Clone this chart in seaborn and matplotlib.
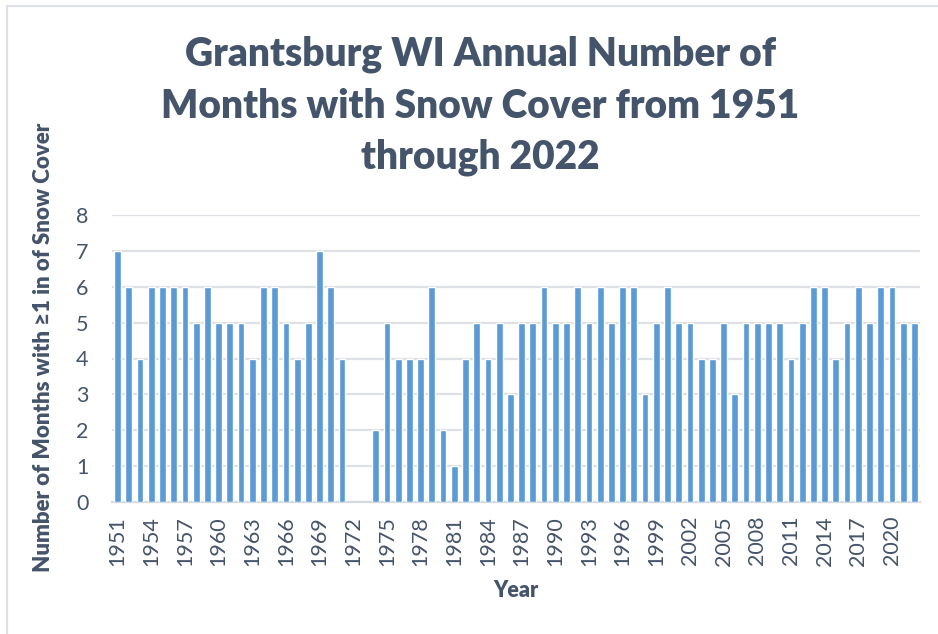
import matplotlib
matplotlib.use("Agg")
import matplotlib.pyplot as plt
import seaborn as sns
import pandas as pd
import numpy as np
from matplotlib.patches import Rectangle

years = list(range(1951, 2023))
months = [7, 6, 4, 6, 6, 6, 6, 5, 6, 5,
          5, 5, 4, 6, 6, 5, 4, 5, 7, 6,
          4, None, None, 2, 5, 4, 4, 4, 6, 2,
          1, 4, 5, 4, 5, 3, 5, 5, 6, 5,
          5, 6, 5, 6, 5, 6, 6, 3, 5, 6,
          5, 5, 4, 4, 5, 3, 5, 5, 5, 5,
          4, 5, 6, 6, 4, 5, 6, 5, 6, 6,
          5, 5]

title = "Grantsburg WI Annual Number of\nMonths with Snow Cover from 1951\nthrough 2022"
text_color = "#44546A"
bar_color = "#5B9BD5"
grid_color = "#DDE1E6"

df = pd.DataFrame({"Year": [str(y) for y in years],
                   "Months": np.array(months, dtype=float)})

sns.set_style("white")
plt.rcParams["font.family"] = ["Lato", "DejaVu Sans"]

fig = plt.figure(figsize=(9.38, 6.34), dpi=100)
ax = fig.add_axes([112 / 938, 1 - 502 / 634, 808 / 938, 287 / 634])

sns.barplot(data=df, x="Year", y="Months", order=df["Year"].tolist(),
            color=bar_color, saturation=1, width=0.6, errorbar=None, ax=ax, zorder=3)

ax.set_ylim(0, 8)
ax.set_xlim(-0.5, len(years) - 0.5)
ax.set_yticks(range(0, 9))
ax.set_xticks(range(0, len(years), 3))
ax.set_xticklabels([str(y) for y in years[::3]], rotation=90)
ax.tick_params(axis="x", length=0, pad=10, labelsize=15.5, labelcolor=text_color)
ax.tick_params(axis="y", length=0, pad=17, labelsize=15.5, labelcolor=text_color)

ax.yaxis.grid(True, color=grid_color, linewidth=1.6, zorder=0)
ax.set_axisbelow(True)
for side in ["left", "right", "top"]:
    ax.spines[side].set_visible(False)
ax.spines["bottom"].set_color("#D5DAE0")
ax.spines["bottom"].set_linewidth(1.6)

ax.set_xlabel("Year", fontsize=15.5, fontweight="heavy", color=text_color, labelpad=10)
ax.set_ylabel("Number of Months with \u22651 in of Snow Cover", fontsize=16,
              fontweight="heavy", color=text_color, family=["Lato", "DejaVu Sans"])
ax.yaxis.set_label_coords(-0.072, 0.54)

fig.text(480 / 938, 1 - 106 / 634, title, ha="center", va="center",
         fontsize=28, fontweight="heavy", color=text_color, linespacing=1.48)

fig.patches.append(Rectangle((7 / 938, -0.1), 1.2, 1 - 6 / 634 + 0.1,
                             transform=fig.transFigure, fill=False,
                             edgecolor="#DDE1E6", linewidth=1.5))

fig.savefig("out.png", dpi=100)
